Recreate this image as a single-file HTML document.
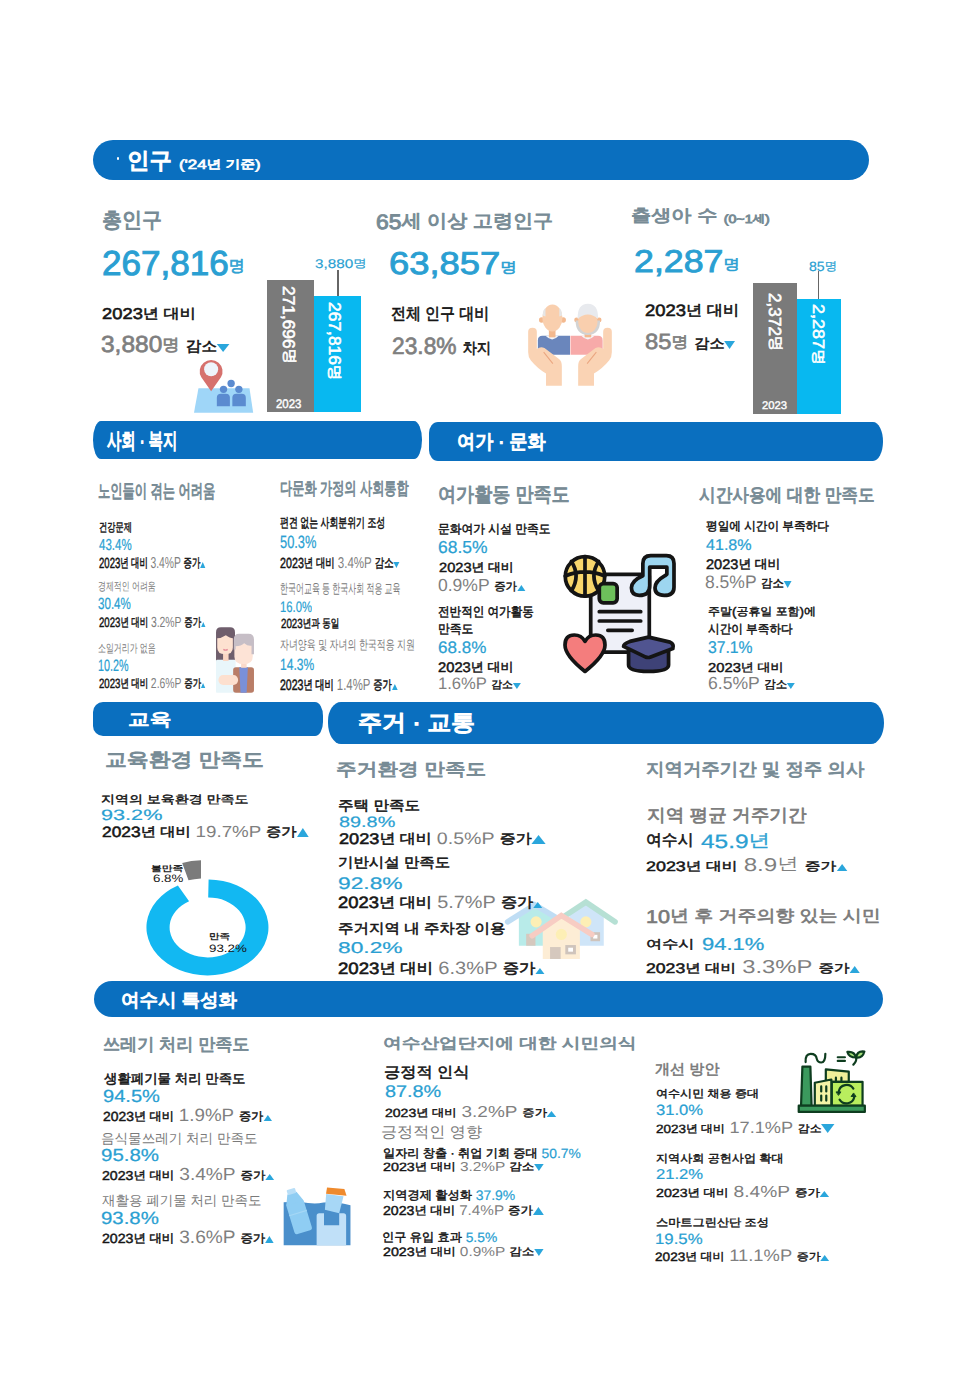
<!DOCTYPE html><html><head><meta charset="utf-8"><title>infographic</title><style>
html,body{margin:0;padding:0;background:#fff}
body{width:980px;height:1386px;position:relative;overflow:hidden;font-family:"Liberation Sans",sans-serif;text-rendering:geometricPrecision}
.t{position:absolute;white-space:nowrap;line-height:1;transform-origin:0 0}
.bar{position:absolute;background:#0a6fbf}
.blk{position:absolute}
.icon{position:absolute;overflow:visible}
.wh{color:#fff}
.wh.b{-webkit-text-stroke:0.055em currentColor}
.b{font-weight:normal;-webkit-text-stroke:0.035em currentColor}
.bb{font-weight:bold}
.h{font-size:0.88em;vertical-align:0.1em}
.tu,.td{display:inline-block;width:0;height:0;vertical-align:baseline}
.tu{border-left:.28em solid transparent;border-right:.28em solid transparent;border-bottom:.42em solid #2aa6dc}
.td{border-left:.28em solid transparent;border-right:.28em solid transparent;border-top:.42em solid #2aa6dc}
.tu.L{border-left-width:.4em;border-right-width:.4em;border-bottom-width:.62em}
.td.L{border-left-width:.4em;border-right-width:.4em;border-top-width:.62em}
.tu.M{border-left-width:.28em;border-right-width:.28em;border-bottom-width:.4em}
.td.M{border-left-width:.28em;border-right-width:.28em;border-top-width:.4em}
.tt{color:#778b95;font-weight:normal;-webkit-text-stroke:0.045em currentColor}
.cy{color:#2a9fd2;-webkit-text-stroke:0.014em currentColor}
.bk{color:#161616}
.gr{color:#7a7a7a}
.g{color:#7f7f7f;-webkit-text-stroke:0;font-size:1.08em}
.c{color:#2a9fd2;-webkit-text-stroke:0.014em currentColor}
.tri{color:#2aa8df;font-size:0.62em;font-weight:normal}
.big{-webkit-text-stroke:0.028em currentColor}
.g.gb{-webkit-text-stroke:0.03em currentColor}
.rot{position:absolute;white-space:nowrap;line-height:1;transform-origin:0 0;color:#fff}
</style></head><body>
<div class="bar" style="left:92.6px;top:140.2px;width:776.8px;height:39.80000000000001px;border-radius:20px"></div>
<div class="blk" style="left:116.6px;top:157.4px;width:2.6px;height:2.6px;border-radius:50%;background:#fff"></div>
<div class="bar" style="left:93px;top:421px;width:328.7px;height:38px;border-radius:8px 8px 8px 8px / 19px 19px 19px 19px"></div>
<div class="bar" style="left:428.8px;top:421.5px;width:454.2px;height:39.5px;border-radius:9px 10px 10px 9px / 11px 19.5px 19.5px 11px"></div>
<div class="bar" style="left:93px;top:701.6px;width:230px;height:34.89999999999998px;border-radius:10px 8px 8px 10px / 10px 14px 14px 10px"></div>
<div class="bar" style="left:328px;top:701.8px;width:555.8px;height:42.200000000000045px;border-radius:13px / 19px 21px 21px 21px"></div>
<div class="bar" style="left:94.3px;top:981.3px;width:788.7px;height:35.40000000000009px;border-radius:18px"></div>
<div class="blk" style="left:267px;top:279.5px;width:46.5px;height:132.5px;background:#7a7a7a"></div>
<div class="blk" style="left:313.5px;top:295.5px;width:47px;height:116.5px;background:#08b8f0"></div>
<div class="blk" style="left:337.2px;top:270px;width:1.6px;height:25.5px;background:#666"></div>
<div class="blk" style="left:753px;top:283.4px;width:43.6px;height:130.9px;background:#7a7a7a"></div>
<div class="blk" style="left:796.6px;top:299px;width:44.4px;height:115.3px;background:#08b8f0"></div>
<div class="blk" style="left:817.6px;top:271px;width:1.6px;height:28px;background:#666"></div>
<svg class="icon" style="left:130px;top:840px" width="160" height="150" viewBox="130 840 160 150">
<path d="M208.6 879.4 A61 48 0 1 1 177.9 885.4 L189.1 901.2 A38 30 0 1 0 208.2 897.4 Z" fill="#12b8f2"/>
<path d="M182.2 863 Q191 860.5 201 860.2 L201 878.4 Q194 878.8 188.5 880.3 Z" fill="#7b7b7b"/>
</svg>
<svg class="icon" style="left:185px;top:350px" width="80" height="70" viewBox="0 0 980 857.5">
<polygon points="165,470 790,470 835,770 110,770" fill="#9fd6f8"/>
<path d="M320 505 L200 335 A140 140 0 1 1 440 335 Z" fill="#d6716d"/>
<circle cx="320" cy="236" r="86" fill="#eef4fb"/>
<circle cx="565" cy="410" r="45" fill="#5b8bd0"/>
<circle cx="472" cy="482" r="45" fill="#5b8bd0"/>
<circle cx="660" cy="482" r="45" fill="#5b8bd0"/>
<path d="M390 690 L390 585 Q390 535 440 535 L500 535 Q550 535 550 585 L550 690 Z" fill="#5b8bd0"/>
<path d="M580 690 L580 585 Q580 535 630 535 L695 535 Q745 535 745 585 L745 690 Z" fill="#5b8bd0"/>
</svg>
<svg class="icon" style="left:520px;top:295px" width="100" height="100" viewBox="0 0 980 980">
<path d="M175 445 Q175 400 220 400 L490 400 L490 585 L175 585 Z" fill="#6a86bc"/>
<path d="M495 400 L765 400 Q810 400 810 445 L810 585 L495 585 Z" fill="#f7aaa9"/>
<path d="M250 400 Q315 470 380 400 Z" fill="#f4f6fb"/>
<path d="M600 400 Q665 470 730 400 Z" fill="#f4f6fb"/>
<rect x="283" y="330" width="65" height="85" fill="#f3b98f"/>
<rect x="633" y="330" width="65" height="85" fill="#f3b98f"/>
<circle cx="212" cy="245" r="26" fill="#f3b98f"/>
<circle cx="424" cy="245" r="26" fill="#f3b98f"/>
<ellipse cx="318" cy="225" rx="98" ry="132" fill="#f9cfae"/>
<path d="M222 200 Q225 140 250 130 L250 210 Z" fill="#e6e6e6"/>
<path d="M412 200 Q410 140 385 130 L385 210 Z" fill="#e6e6e6"/>
<circle cx="555" cy="245" r="24" fill="#f3b98f"/>
<circle cx="775" cy="245" r="24" fill="#f3b98f"/>
<path d="M545 250 Q545 390 665 392 Q785 390 785 250 Z" fill="#d3d3d3"/>
<ellipse cx="665" cy="265" rx="95" ry="108" fill="#f9cfae"/>
<path d="M565 235 Q560 85 665 85 Q770 85 765 235 Q720 190 665 190 Q610 190 565 235 Z" fill="#e8eaee"/>
<path d="M80 360 Q80 320 122 320 Q165 320 165 360 L165 530 Q200 500 240 520 L385 630 Q410 650 410 700 L410 890 L255 890 L255 770 Q170 720 105 640 Q80 605 80 560 Z" fill="#fad3b4"/>
<path d="M900 360 Q900 320 858 320 Q815 320 815 360 L815 530 Q780 500 740 520 L595 630 Q570 650 570 700 L570 890 L725 890 L725 770 Q810 720 875 640 Q900 605 900 560 Z" fill="#fad3b4"/>
<path d="M232 560 L322 672" stroke="#eaa57f" stroke-width="10" fill="none"/>
<path d="M748 560 L658 672" stroke="#eaa57f" stroke-width="10" fill="none"/>
</svg>
<svg class="icon" style="left:205px;top:620px" width="60" height="80" viewBox="0 0 980 1306.7">
<path d="M180 680 L180 200 Q180 120 260 120 L410 120 Q490 120 490 200 L490 680 Z" fill="#6f5e6c"/>
<rect x="180" y="650" width="320" height="540" rx="20" fill="#e9f6fa"/>
<rect x="295" y="520" width="90" height="150" fill="#fbd6c3"/>
<path d="M200 300 Q265 300 340 250 Q410 300 455 300 L455 450 Q455 560 330 560 Q200 560 200 450 Z" fill="#fde1d0"/>
<path d="M300 480 Q340 505 370 480" stroke="#e48a98" stroke-width="22" fill="none"/>
<rect x="460" y="770" width="340" height="420" rx="45" fill="#b97d67"/>
<path d="M560 770 L700 770 L680 1190 L580 1190 Z" fill="#7a90d8"/>
<rect x="590" y="680" width="90" height="100" fill="#fbd9c9"/>
<path d="M480 380 L780 380 L780 600 Q780 720 630 720 Q480 720 480 600 Z" fill="#fde3d6"/>
<path d="M470 480 L470 320 Q470 225 560 225 L710 225 Q800 225 800 320 L800 560 L760 560 L760 420 Q700 430 640 380 Q590 430 500 430 L500 480 Z" fill="#c6bec6"/>
<rect x="220" y="900" width="320" height="160" rx="75" fill="#fde0cf"/>
</svg>
<svg class="icon" style="left:550px;top:540px" width="140" height="150" viewBox="0 0 980 1050">
<g stroke="#141414" stroke-width="26" stroke-linejoin="round" stroke-linecap="round">
<rect x="285" y="240" width="410" height="545" rx="12" fill="#eef0f8"/>
<circle cx="245" cy="255" r="138" fill="#f8d66c"/>
<path d="M245 117 L245 393 M107 252 Q245 195 383 252" fill="none"/>
<path d="M150 150 Q215 250 150 355 M340 150 Q275 250 340 355" fill="none"/>
<rect x="345" y="305" width="125" height="135" rx="28" fill="#6dbf5b"/>
<path d="M345 502 L635 502 M345 567 L635 567 M405 632 L575 632" fill="none"/>
<path d="M650 250 L650 165 Q650 110 705 110 L815 110 Q868 110 868 165 L868 330 Q868 388 800 388 Q735 388 735 335 Q735 290 805 250 L818 240 L818 190 L698 190 L698 320 Q698 388 625 388 Q570 388 570 335 Q570 285 650 250 Z" fill="#9dd6f0"/>
<path d="M245 920 Q105 810 105 735 Q105 665 170 665 Q220 665 245 710 Q270 665 320 665 Q385 665 385 735 Q385 810 245 920 Z" fill="#f47d7d"/>
<path d="M550 770 L550 875 Q550 920 690 920 Q830 920 830 875 L830 770 Z" fill="#3e4277"/>
<path d="M515 745 Q515 725 560 710 L690 680 L840 715 Q870 730 860 760 L700 820 Q690 825 670 820 Z" fill="#505490"/>
</g>
</svg>
<svg class="icon" style="left:495px;top:890px;opacity:0.55" width="130" height="80" viewBox="0 0 980 603">
<polygon points="180,420 180,200 300,125 470,225 470,420" fill="#7fdcd8"/>
<path d="M95 240 L300 112 L480 220" stroke="#8cc3ec" stroke-width="42" stroke-linecap="round" fill="none"/>
<polygon points="560,420 560,185 685,105 820,195 820,420" fill="#a9d1f4"/>
<path d="M520 200 L685 92 L905 240" stroke="#7cc8b2" stroke-width="42" stroke-linecap="round" fill="none"/>
<circle cx="310" cy="240" r="42" fill="#fde27a"/>
<circle cx="685" cy="240" r="42" fill="#fde27a"/>
<rect x="235" y="330" width="70" height="90" fill="#b49c8a"/>
<rect x="720" y="318" width="72" height="68" fill="#a89486"/><rect x="740" y="338" width="32" height="28" fill="#fff"/>
<polygon points="360,520 360,285 500,205 640,295 640,520" fill="#fde0b4"/>
<path d="M280 345 L500 192 L730 335" stroke="#f2a393" stroke-width="42" stroke-linecap="round" fill="none"/>
<circle cx="500" cy="335" r="42" fill="#fde27a"/>
<rect x="415" y="430" width="80" height="90" fill="#b49c8a"/>
<rect x="530" y="415" width="80" height="70" fill="#a89486"/><rect x="552" y="435" width="36" height="30" fill="#fff"/>
</svg>
<svg class="icon" style="left:275px;top:1175px" width="85" height="80" viewBox="0 0 980 922">
<path d="M100 315 Q240 300 380 322 Q470 335 560 318 Q700 300 870 350 L870 810 L100 810 Z" fill="#4a8fcb"/>
<path d="M480 470 Q480 440 510 440 L565 440 L565 580 L740 580 L740 440 L790 440 Q820 440 820 470 L820 810 L480 810 Z" fill="#c0e0f8"/>
<g transform="rotate(-17 290 400)">
<rect x="150" y="290" width="210" height="370" rx="30" fill="#8fcdf3"/>
<path d="M150 310 L200 190 L310 190 L360 310 Z" fill="#8fcdf3"/>
<rect x="205" y="140" width="100" height="60" rx="10" fill="#b8def7"/>
<path d="M150 430 L360 430" stroke="#a5d7f5" stroke-width="14"/>
</g>
<path d="M590 220 L790 245 L740 440 L575 400 Z" fill="#a7d7f6"/>
<path d="M600 145 L800 160 L825 240 L588 215 Z" fill="#ef8a2d"/>
</svg>
<svg class="icon" style="left:790px;top:1040px" width="90" height="80" viewBox="0 0 980 871">
<g stroke="#0e3d1f" stroke-width="24" stroke-linejoin="round" stroke-linecap="round">
<path d="M390 455 L390 320 L640 345 L640 455 Z" fill="#f0f09a"/>
<path d="M455 455 L790 455 L790 718 L455 718 Z" fill="#b9ee5e"/>
<path d="M270 465 L450 430 L450 718 L270 718 Z" fill="#f4f4a6"/>
<path d="M135 290 L222 290 L235 718 L120 718 Z" fill="#3b9a5d"/>
<rect x="95" y="715" width="720" height="68" fill="#3b9a5d"/>
<path d="M170 240 Q165 150 225 150 Q285 150 290 200 Q300 245 340 245 Q385 245 385 150" fill="none"/>
<path d="M520 188 L598 188 M520 228 L598 228" fill="none"/>
<path d="M690 268 Q730 230 720 190" fill="none"/>
<path d="M720 190 Q640 190 625 130 Q700 120 720 190 Z" fill="#a6e07a"/>
<path d="M720 190 Q790 200 810 125 Q730 115 720 190 Z" fill="#a6e07a"/>
<path d="M340 505 L340 560 M395 505 L395 560 M340 605 L340 660 M395 605 L395 660 M500 410 L500 440 M560 410 L560 440" fill="none"/>
<path d="M530 560 A88 88 0 0 1 690 530 M700 620 A88 88 0 0 1 540 650" fill="none"/>
<path d="M505 565 L555 565 L530 600 Z M715 615 L665 615 L690 580 Z" fill="#0e3d1f" stroke-width="10"/>
</g>
</svg>
<div class="rot b" id="r1" style="left:296.67px;top:286.41px;font-size:17.05px;transform:rotate(90deg) scaleX(1.0172)">271,696<span class="h">명</span></div>
<div class="rot b" id="r2" style="left:342.21px;top:301.56px;font-size:16.93px;transform:rotate(90deg) scaleX(1.0299)">267,816<span class="h">명</span></div>
<div class="rot b" id="r3" style="left:783.15px;top:292.63px;font-size:17.48px;transform:rotate(90deg) scaleX(0.9864)">2,372<span class="h">명</span></div>
<div class="rot b" id="r4" style="left:826.41px;top:304.39px;font-size:16.30px;transform:rotate(90deg) scaleX(1.1076)">2,287<span class="h">명</span></div>
<div class="rot b" id="y1" style="left:276.37px;top:397.74px;font-size:12.47px;transform:scaleX(0.9139)">2023</div>
<div class="rot b" id="y2" style="left:762.41px;top:400.57px;font-size:11.01px;transform:scaleX(1.0239)">2023</div>
<div class="t wh b" id="h1a" style="left:126.78px;top:150.10px;font-size:25.37px;transform:scaleX(1.0031)"><span class="h">인구</span></div>
<div class="t wh b" id="h1b" style="left:178.92px;top:158.30px;font-size:13.29px;transform:scaleX(1.2669)">('24<span class="h">년 기준</span>)</div>
<div class="t wh b" id="h2" style="left:106.73px;top:430.09px;font-size:24.96px;transform:scaleX(0.6546)"><span class="h">사회 · 복지</span></div>
<div class="t wh b" id="h3" style="left:456.78px;top:432.20px;font-size:22.17px;transform:scaleX(0.9298)"><span class="h">여가 · 문화</span></div>
<div class="t wh b" id="h4" style="left:128.20px;top:711.37px;font-size:19.46px;transform:scaleX(1.2646)"><span class="h">교육</span></div>
<div class="t wh b" id="h5" style="left:357.83px;top:712.24px;font-size:25.52px;transform:scaleX(1.0669)"><span class="h">주거 · 교통</span></div>
<div class="t wh b" id="h6" style="left:121.26px;top:991.13px;font-size:20.59px;transform:scaleX(1.0200)"><span class="h">여수시 특성화</span></div>
<div class="t tt" id="p1t" style="left:101.61px;top:209.78px;font-size:24.17px;transform:scaleX(0.9427)"><span class="h">총인구</span></div>
<div class="t cy big" id="p1n" style="left:102.16px;top:247.04px;font-size:34.60px;transform:scaleX(1.0148)">267,816<span class="b" style="font-size:0.52em;vertical-align:0.12em"><span class="h">명</span></span></div>
<div class="t bk b" id="p1c" style="left:101.54px;top:306.81px;font-size:15.67px;transform:scaleX(1.1727)">2023<span class="h">년 대비</span></div>
<div class="t bk" id="p1d" style="left:100.86px;top:333.15px;font-size:21.56px;transform:scaleX(1.0527)"><span class="g gb">3,880<span style="font-size:0.8em"><span class="h">명</span></span></span> <span class="b" style="font-size:0.78em"><span class="h">감소</span></span><span class="td M"></span></div>
<div class="t cy" id="p1l" style="left:315.27px;top:258.35px;font-size:12.64px;transform:scaleX(1.2076)">3,880<span class="h">명</span></div>
<div class="t tt" id="p2t" style="left:375.83px;top:211.69px;font-size:20.94px;transform:scaleX(1.0910)">65<span class="h">세 이상 고령인구</span></div>
<div class="t cy big" id="p2n" style="left:389.48px;top:248.48px;font-size:31.54px;transform:scaleX(1.1536)">63,857<span class="b" style="font-size:0.52em;vertical-align:0.12em"><span class="h">명</span></span></div>
<div class="t bk b" id="p2c" style="left:391.10px;top:305.75px;font-size:18.44px;transform:scaleX(0.9237)"><span class="h">전체 인구 대비</span></div>
<div class="t bk" id="p2d" style="left:391.57px;top:335.47px;font-size:21.83px;transform:scaleX(0.9656)"><span class="g gb">23.8%</span> <span class="b" style="font-size:0.78em"><span class="h">차지</span></span></div>
<div class="t tt" id="p3t" style="left:631.01px;top:208.20px;font-size:19.15px;transform:scaleX(1.1980)"><span class="h">출생아 수</span> <span style="font-size:0.62em">(0~1<span class="h">세</span>)</span></div>
<div class="t cy big" id="p3n" style="left:634.05px;top:245.82px;font-size:31.59px;transform:scaleX(1.1321)">2,287<span class="b" style="font-size:0.52em;vertical-align:0.12em"><span class="h">명</span></span></div>
<div class="t bk b" id="p3c" style="left:644.97px;top:303.42px;font-size:16.53px;transform:scaleX(1.1165)">2023<span class="h">년 대비</span></div>
<div class="t bk" id="p3d" style="left:644.82px;top:330.87px;font-size:20.34px;transform:scaleX(1.0840)"><span class="g gb">85<span style="font-size:0.8em"><span class="h">명</span></span></span> <span class="b" style="font-size:0.78em"><span class="h">감소</span></span><span class="td M"></span></div>
<div class="t cy" id="p3l" style="left:809.32px;top:259.53px;font-size:13.36px;transform:scaleX(1.0535)">85<span class="h">명</span></div>
<div class="t tt" id="s1t" style="left:98.45px;top:482.13px;font-size:20.93px;transform:scaleX(0.6668)"><span class="h">노인들이 겪는 어려움</span></div>
<div class="t bk b" id="s1a" style="left:98.63px;top:520.74px;font-size:13.36px;transform:scaleX(0.6997)"><span class="h">건강문제</span></div>
<div class="t cy" id="s1b" style="left:98.75px;top:537.88px;font-size:15.91px;transform:scaleX(0.7228)">43.4%</div>
<div class="t bk b" id="s1c" style="left:99.13px;top:556.12px;font-size:14.66px;transform:scaleX(0.6524)">2023<span class="h">년 대비</span> <span class="g">3.4%P</span> <span class="h">증가</span><span class="tu"></span></div>
<div class="t gr" id="s1d" style="left:97.89px;top:581.20px;font-size:12.83px;transform:scaleX(0.7035)"><span class="h">경제적인 어려움</span></div>
<div class="t cy" id="s1e" style="left:98.00px;top:596.31px;font-size:16.26px;transform:scaleX(0.7124)">30.4%</div>
<div class="t bk b" id="s1f" style="left:98.72px;top:616.43px;font-size:13.58px;transform:scaleX(0.7095)">2023<span class="h">년 대비</span> <span class="g">3.2%P</span> <span class="h">증가</span><span class="tu"></span></div>
<div class="t gr" id="s1g" style="left:97.65px;top:642.07px;font-size:13.30px;transform:scaleX(0.6774)"><span class="h">소일거리가 없음</span></div>
<div class="t cy" id="s1h" style="left:97.75px;top:657.93px;font-size:16.54px;transform:scaleX(0.6500)">10.2%</div>
<div class="t bk b" id="s1i" style="left:98.73px;top:677.16px;font-size:13.42px;transform:scaleX(0.7178)">2023<span class="h">년 대비</span> <span class="g">2.6%P</span> <span class="h">증가</span><span class="tu"></span></div>
<div class="t tt" id="s2t" style="left:279.87px;top:479.64px;font-size:19.74px;transform:scaleX(0.7026)"><span class="h">다문화 가정의 사회통합</span></div>
<div class="t bk b" id="s2a" style="left:280.24px;top:516.48px;font-size:15.16px;transform:scaleX(0.6670)"><span class="h">편견 없는 사회분위기 조성</span></div>
<div class="t cy" id="s2b" style="left:279.90px;top:533.88px;font-size:17.85px;transform:scaleX(0.7195)">50.3%</div>
<div class="t bk b" id="s2c" style="left:280.46px;top:555.73px;font-size:14.55px;transform:scaleX(0.7368)">2023<span class="h">년 대비</span> <span class="g">3.4%P</span> <span class="h">감소</span><span class="td"></span></div>
<div class="t gr" id="s2d" style="left:280.01px;top:581.68px;font-size:15.40px;transform:scaleX(0.5888)"><span class="h">한국어교육 등 한국사회 적응 교육</span></div>
<div class="t cy" id="s2e" style="left:280.04px;top:599.65px;font-size:15.16px;transform:scaleX(0.7426)">16.0%</div>
<div class="t bk b" id="s2f" style="left:280.71px;top:617.02px;font-size:13.29px;transform:scaleX(0.7332)">2023<span class="h">년과 동일</span></div>
<div class="t gr" id="s2g" style="left:280.37px;top:638.65px;font-size:14.74px;transform:scaleX(0.6886)"><span class="h">자녀양육 및 자녀의 한국적응 지원</span></div>
<div class="t cy" id="s2h" style="left:280.37px;top:656.71px;font-size:16.29px;transform:scaleX(0.7415)">14.3%</div>
<div class="t bk b" id="s2i" style="left:279.95px;top:677.18px;font-size:14.97px;transform:scaleX(0.7047)">2023<span class="h">년 대비</span> <span class="g">1.4%P</span> <span class="h">증가</span><span class="tu"></span></div>
<div class="t tt" id="l1t" style="left:437.77px;top:483.93px;font-size:22.75px;transform:scaleX(0.9040)"><span class="h">여가활동 만족도</span></div>
<div class="t bk b" id="l1a" style="left:437.97px;top:522.63px;font-size:14.16px;transform:scaleX(0.9455)"><span class="h">문화여가 시설 만족도</span></div>
<div class="t cy" id="l1b" style="left:438.36px;top:538.87px;font-size:17.35px;transform:scaleX(1.0058)">68.5%</div>
<div class="t bk b" id="l1c" style="left:438.63px;top:561.35px;font-size:13.36px;transform:scaleX(1.0945)">2023<span class="h">년 대비</span></div>
<div class="t bk" id="l1d" style="left:437.85px;top:577.27px;font-size:16.17px;transform:scaleX(1.0045)"><span class="g">0.9%P</span> <span class="b" style="font-size:0.8em"><span class="h">증가</span></span><span class="tu"></span></div>
<div class="t bk b" id="l1e" style="left:438.28px;top:605.15px;font-size:14.94px;transform:scaleX(0.8819)"><span class="h">전반적인 여가활동</span></div>
<div class="t bk b" id="l1f" style="left:437.82px;top:623.21px;font-size:14.36px;transform:scaleX(0.9330)"><span class="h">만족도</span></div>
<div class="t cy" id="l1g" style="left:437.93px;top:640.27px;font-size:16.70px;transform:scaleX(1.0201)">68.8%</div>
<div class="t bk b" id="l1h" style="left:438.13px;top:660.63px;font-size:13.89px;transform:scaleX(1.0628)">2023<span class="h">년 대비</span></div>
<div class="t bk" id="l1i" style="left:437.78px;top:676.28px;font-size:15.41px;transform:scaleX(0.9988)"><span class="g">1.6%P</span> <span class="b" style="font-size:0.8em"><span class="h">감소</span></span><span class="td"></span></div>
<div class="t tt" id="l2t" style="left:698.57px;top:486.09px;font-size:20.71px;transform:scaleX(0.9128)"><span class="h">시간사용에 대한 만족도</span></div>
<div class="t bk b" id="l2a" style="left:706.02px;top:520.42px;font-size:13.84px;transform:scaleX(0.9575)"><span class="h">평일에 시간이 부족하다</span></div>
<div class="t cy" id="l2b" style="left:705.89px;top:538.39px;font-size:15.51px;transform:scaleX(1.0372)">41.8%</div>
<div class="t bk b" id="l2c" style="left:706.15px;top:557.74px;font-size:13.93px;transform:scaleX(1.0463)">2023<span class="h">년 대비</span></div>
<div class="t bk" id="l2d" style="left:705.27px;top:572.75px;font-size:16.67px;transform:scaleX(0.9726)"><span class="g">8.5%P</span> <span class="b" style="font-size:0.8em"><span class="h">감소</span></span><span class="td"></span></div>
<div class="t bk b" id="l2e" style="left:707.55px;top:605.98px;font-size:12.47px;transform:scaleX(1.0903)"><span class="h">주말</span>(<span class="h">공휴일 포함</span>)<span class="h">에</span></div>
<div class="t bk b" id="l2f" style="left:707.77px;top:622.70px;font-size:13.92px;transform:scaleX(0.9506)"><span class="h">시간이 부족하다</span></div>
<div class="t cy" id="l2g" style="left:708.26px;top:638.51px;font-size:17.09px;transform:scaleX(0.9201)">37.1%</div>
<div class="t bk b" id="l2h" style="left:707.50px;top:661.33px;font-size:13.04px;transform:scaleX(1.1334)">2023<span class="h">년 대비</span></div>
<div class="t bk" id="l2i" style="left:707.56px;top:675.39px;font-size:16.32px;transform:scaleX(0.9978)"><span class="g">6.5%P</span> <span class="b" style="font-size:0.8em"><span class="h">감소</span></span><span class="td"></span></div>
<div class="t tt" id="e1t" style="left:105.04px;top:750.10px;font-size:21.62px;transform:scaleX(1.1484)"><span class="h">교육환경 만족도</span></div>
<div class="t bk b" id="e1a" style="left:101.36px;top:793.84px;font-size:12.76px;transform:scaleX(1.2451)"><span class="h">지역의 보육환경 만족도</span></div>
<div class="t cy" id="e1b" style="left:101.42px;top:808.47px;font-size:15.07px;transform:scaleX(1.4374)">93.2%</div>
<div class="t bk b" id="e1c" style="left:101.85px;top:824.24px;font-size:14.88px;transform:scaleX(1.1678)">2023<span class="h">년 대비</span> <span class="g">19.7%P</span> <span class="h">증가</span><span class="tu L"></span></div>
<div class="t bk b" id="d1" style="left:150.55px;top:864.53px;font-size:9.06px;transform:scaleX(1.3494)"><span class="h">불만족</span></div>
<div class="t bk" id="d2" style="left:153.31px;top:874.37px;font-size:10.90px;transform:scaleX(1.2220)">6.8%</div>
<div class="t bk b" id="d3" style="left:209.30px;top:932.82px;font-size:9.28px;transform:scaleX(1.2874)"><span class="h">만족</span></div>
<div class="t bk" id="d4" style="left:208.97px;top:943.71px;font-size:10.72px;transform:scaleX(1.2444)">93.2%</div>
<div class="t tt" id="r1t" style="left:335.96px;top:761.07px;font-size:19.77px;transform:scaleX(1.1878)"><span class="h">주거환경 만족도</span></div>
<div class="t bk b" id="r1a" style="left:338.21px;top:798.89px;font-size:15.69px;transform:scaleX(1.1282)"><span class="h">주택 만족도</span></div>
<div class="t cy" id="r1b" style="left:338.67px;top:814.91px;font-size:15.12px;transform:scaleX(1.3137)">89.8%</div>
<div class="t bk b" id="r1c" style="left:338.91px;top:830.69px;font-size:15.39px;transform:scaleX(1.1807)">2023<span class="h">년 대비</span> <span class="g">0.5%P</span> <span class="h">증가</span><span class="tu L"></span></div>
<div class="t bk b" id="r1d" style="left:338.21px;top:856.41px;font-size:15.80px;transform:scaleX(1.1091)"><span class="h">기반시설 만족도</span></div>
<div class="t cy" id="r1e" style="left:337.74px;top:875.50px;font-size:16.72px;transform:scaleX(1.3655)">92.8%</div>
<div class="t bk b" id="r1f" style="left:337.79px;top:894.46px;font-size:16.41px;transform:scaleX(1.1222)">2023<span class="h">년 대비</span> <span class="g">5.7%P</span> <span class="h">증가</span><span class="tu"></span></div>
<div class="t bk b" id="r1g" style="left:338.28px;top:921.58px;font-size:15.74px;transform:scaleX(1.1169)"><span class="h">주거지역 내 주차장 이용</span></div>
<div class="t cy" id="r1h" style="left:337.57px;top:940.93px;font-size:15.62px;transform:scaleX(1.4589)">80.2%</div>
<div class="t bk b" id="r1i" style="left:337.82px;top:959.84px;font-size:16.51px;transform:scaleX(1.1281)">2023<span class="h">년 대비</span> <span class="g">6.3%P</span> <span class="h">증가</span><span class="tu"></span></div>
<div class="t tt" id="r2t" style="left:646.38px;top:761.32px;font-size:19.98px;transform:scaleX(1.0497)"><span class="h">지역거주기간 및 정주 의사</span></div>
<div class="t gr b" id="r2a" style="left:646.83px;top:806.68px;font-size:19.99px;transform:scaleX(1.0619)"><span class="h">지역 평균 거주기간</span></div>
<div class="t bk b" id="r2b" style="left:646.30px;top:833.20px;font-size:17.87px;transform:scaleX(1.0066)"><span class="h">여수시</span></div>
<div class="t cy" id="r2b2" style="left:701.14px;top:832.08px;font-size:19.35px;transform:scaleX(1.2640)">45.9<span class="h">년</span></div>
<div class="t bk" id="r2c" style="left:646.25px;top:855.57px;font-size:17.12px;transform:scaleX(1.3074)"><span class="b" style="font-size:0.8em">2023<span class="h">년 대비</span></span> <span class="g">8.9<span class="h">년</span></span> <span class="b" style="font-size:0.8em"><span class="h">증가</span></span><span class="tu"></span></div>
<div class="t gr b" id="r2d" style="left:645.65px;top:907.81px;font-size:18.47px;transform:scaleX(1.1673)">10<span class="h">년 후 거주의향 있는 시민</span></div>
<div class="t bk b" id="r2e" style="left:645.64px;top:938.32px;font-size:13.84px;transform:scaleX(1.3269)"><span class="h">여수시</span></div>
<div class="t cy" id="r2e2" style="left:701.92px;top:935.80px;font-size:17.43px;transform:scaleX(1.2635)">94.1%</div>
<div class="t bk" id="r2f" style="left:646.01px;top:958.47px;font-size:17.34px;transform:scaleX(1.2725)"><span class="b" style="font-size:0.8em">2023<span class="h">년 대비</span></span> <span class="g">3.3%P</span> <span class="b" style="font-size:0.8em"><span class="h">증가</span></span><span class="tu"></span></div>
<div class="t tt" id="w1t" style="left:103.46px;top:1035.75px;font-size:19.57px;transform:scaleX(0.9944)"><span class="h">쓰레기 처리 만족도</span></div>
<div class="t bk b" id="w1a" style="left:103.68px;top:1071.80px;font-size:15.05px;transform:scaleX(1.0127)"><span class="h">생활폐기물 처리 만족도</span></div>
<div class="t cy" id="w1b" style="left:102.76px;top:1088.05px;font-size:17.57px;transform:scaleX(1.1438)">94.5%</div>
<div class="t bk" id="w1c" style="left:103.38px;top:1106.59px;font-size:16.55px;transform:scaleX(1.0500)"><span class="b" style="font-size:0.8em">2023<span class="h">년 대비</span></span> <span class="g">1.9%P</span> <span class="b" style="font-size:0.8em"><span class="h">증가</span></span><span class="tu"></span></div>
<div class="t gr" id="w1d" style="left:101.01px;top:1131.93px;font-size:15.61px;transform:scaleX(0.9874)"><span class="h">음식물쓰레기 처리 만족도</span></div>
<div class="t cy" id="w1e" style="left:101.09px;top:1146.80px;font-size:17.48px;transform:scaleX(1.1728)">95.8%</div>
<div class="t bk" id="w1f" style="left:101.86px;top:1165.66px;font-size:16.16px;transform:scaleX(1.0963)"><span class="b" style="font-size:0.8em">2023<span class="h">년 대비</span></span> <span class="g">3.4%P</span> <span class="b" style="font-size:0.8em"><span class="h">증가</span></span><span class="tu"></span></div>
<div class="t gr" id="w1g" style="left:101.92px;top:1194.45px;font-size:15.57px;transform:scaleX(0.9849)"><span class="h">재활용 폐기물 처리 만족도</span></div>
<div class="t cy" id="w1h" style="left:101.06px;top:1209.69px;font-size:17.65px;transform:scaleX(1.1570)">93.8%</div>
<div class="t bk" id="w1i" style="left:102.09px;top:1228.19px;font-size:16.70px;transform:scaleX(1.0594)"><span class="b" style="font-size:0.8em">2023<span class="h">년 대비</span></span> <span class="g">3.6%P</span> <span class="b" style="font-size:0.8em"><span class="h">증가</span></span><span class="tu"></span></div>
<div class="t tt" id="i1t" style="left:383.03px;top:1035.86px;font-size:16.73px;transform:scaleX(1.2709)"><span class="h">여수산업단지에 대한 시민의식</span></div>
<div class="t bk b" id="i1a" style="left:384.00px;top:1065.16px;font-size:16.91px;transform:scaleX(1.0888)"><span class="h">긍정적 인식</span></div>
<div class="t cy" id="i1b" style="left:384.95px;top:1084.23px;font-size:16.89px;transform:scaleX(1.1760)">87.8%</div>
<div class="t bk" id="i1c" style="left:384.87px;top:1104.64px;font-size:14.76px;transform:scaleX(1.1892)"><span class="b" style="font-size:0.8em">2023<span class="h">년 대비</span></span> <span class="g">3.2%P</span> <span class="b" style="font-size:0.8em"><span class="h">증가</span></span><span class="tu"></span></div>
<div class="t gr" id="i1d" style="left:381.20px;top:1124.93px;font-size:17.31px;transform:scaleX(1.0577)"><span class="h">긍정적인 영향</span></div>
<div class="t bk b" id="i1e" style="left:382.75px;top:1146.74px;font-size:13.37px;transform:scaleX(1.0347)"><span class="h">일자리 창출 · 취업 기회 증대</span> <span class="c">50.7%</span></div>
<div class="t bk b" id="i1f" style="left:382.97px;top:1161.37px;font-size:12.00px;transform:scaleX(1.1901)">2023<span class="h">년 대비</span> <span class="g">3.2%P</span> <span class="h">감소</span><span class="td L"></span></div>
<div class="t bk b" id="i1g" style="left:382.71px;top:1188.97px;font-size:13.80px;transform:scaleX(1.0074)"><span class="h">지역경제 활성화</span> <span class="c">37.9%</span></div>
<div class="t bk b" id="i1h" style="left:383.19px;top:1202.68px;font-size:13.01px;transform:scaleX(1.0868)">2023<span class="h">년 대비</span> <span class="g">7.4%P</span> <span class="h">증가</span><span class="tu L"></span></div>
<div class="t bk b" id="i1i" style="left:382.14px;top:1230.77px;font-size:13.57px;transform:scaleX(1.0197)"><span class="h">인구 유입 효과</span> <span class="c">5.5%</span></div>
<div class="t bk b" id="i1j" style="left:382.73px;top:1245.04px;font-size:12.18px;transform:scaleX(1.1721)">2023<span class="h">년 대비</span> <span class="g">0.9%P</span> <span class="h">감소</span><span class="td L"></span></div>
<div class="t gr b" id="k1t" style="left:655.37px;top:1062.31px;font-size:16.57px;transform:scaleX(1.0338)"><span class="h">개선 방안</span></div>
<div class="t bk b" id="k1a" style="left:655.82px;top:1088.49px;font-size:12.08px;transform:scaleX(1.1342)"><span class="h">여수시민 채용 증대</span></div>
<div class="t cy" id="k1b" style="left:655.50px;top:1103.81px;font-size:14.96px;transform:scaleX(1.1103)">31.0%</div>
<div class="t bk" id="k1c" style="left:656.36px;top:1120.34px;font-size:15.01px;transform:scaleX(1.1223)"><span class="b" style="font-size:0.8em">2023<span class="h">년 대비</span></span> <span class="g">17.1%P</span> <span class="b" style="font-size:0.8em"><span class="h">감소</span></span><span class="td L"></span></div>
<div class="t bk b" id="k1d" style="left:656.08px;top:1153.10px;font-size:12.54px;transform:scaleX(1.0968)"><span class="h">지역사회 공헌사업 확대</span></div>
<div class="t cy" id="k1e" style="left:656.12px;top:1167.99px;font-size:14.31px;transform:scaleX(1.1626)">21.2%</div>
<div class="t bk" id="k1f" style="left:655.87px;top:1184.04px;font-size:14.99px;transform:scaleX(1.1855)"><span class="b" style="font-size:0.8em">2023<span class="h">년 대비</span></span> <span class="g">8.4%P</span> <span class="b" style="font-size:0.8em"><span class="h">증가</span></span><span class="tu"></span></div>
<div class="t bk b" id="k1g" style="left:655.85px;top:1216.65px;font-size:12.45px;transform:scaleX(1.1132)"><span class="h">스마트그린산단 조성</span></div>
<div class="t cy" id="k1h" style="left:655.37px;top:1232.84px;font-size:14.94px;transform:scaleX(1.1227)">19.5%</div>
<div class="t bk" id="k1i" style="left:655.14px;top:1247.60px;font-size:15.34px;transform:scaleX(1.1091)"><span class="b" style="font-size:0.8em">2023<span class="h">년 대비</span></span> <span class="g">11.1%P</span> <span class="b" style="font-size:0.8em"><span class="h">증가</span></span><span class="tu"></span></div>
</body></html>
